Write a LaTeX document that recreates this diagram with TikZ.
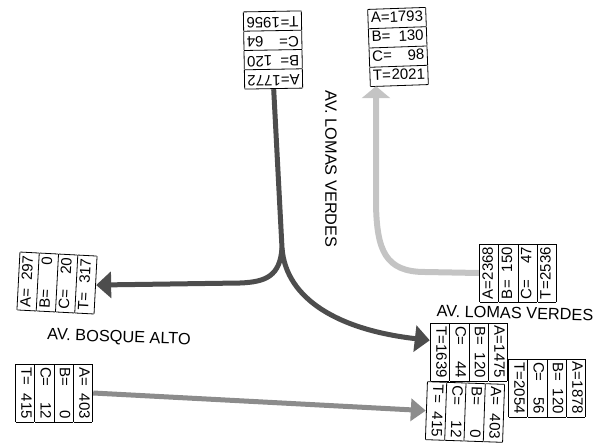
\documentclass[tikz,border=0pt]{standalone}
\usepackage{fontspec}
\setmainfont{Liberation Sans}
\usetikzlibrary{arrows.meta, calc}

\definecolor{viaoscura}{HTML}{4D4D4D}
\definecolor{viamedia}{HTML}{8C8C8C}
\definecolor{viaclara}{HTML}{C4C4C4}

% tabla de aforo: autos, buses, camiones, total
\newcommand{\aforo}[4]{%
  \renewcommand{\arraystretch}{1.0}%
  \setlength{\tabcolsep}{3pt}%
  \setlength{\arrayrulewidth}{0.8pt}%
  \begin{tabular}{|l|}\hline
    \makebox[52pt]{A=\hfill#1}\\\hline
    \makebox[52pt]{B=\hfill#2}\\\hline
    \makebox[52pt]{C=\hfill#3}\\\hline
    \makebox[52pt]{T=\hfill#4}\\\hline
  \end{tabular}}

\begin{document}
\begin{tikzpicture}[x=1pt, y=-1pt,
    conteo/.style={inner sep=0pt, font=\fontsize{15}{18.5}\selectfont},
    calle/.style={inner sep=0pt, font=\fontsize{16.3}{19}\selectfont},
    via/.style={line width=5pt, line join=round}]

    \useasboundingbox (0,0) rectangle (597,444);

    % --- Conteos ---
    \node[conteo, rotate=181] (norte)   at (273,50)  {\aforo{1772}{120}{64}{1956}};
    \node[conteo, rotate=2]   (noreste) at (398,47)  {\aforo{1793}{130}{98}{2021}};
    \node[conteo, rotate=90]  (este)    at (518,273) {\aforo{2368}{150}{47}{2536}};
    \node[conteo, rotate=87]  (oeste)   at (57,283)  {\aforo{297}{0}{20}{317}};
    \node[conteo, rotate=-90] (suroeste) at (54,393) {\aforo{403}{0}{12}{415}};
    \node[conteo, rotate=-90] (sur)     at (469,352) {\aforo{1475}{120}{44}{1639}};
    \node[conteo, rotate=-92] (surb)    at (465,412) {\aforo{403}{0}{12}{415}};
    \node[conteo, rotate=-90] (sureste) at (547,388) {\aforo{1878}{120}{56}{2054}};

    % --- Calles ---
    \node[calle, rotate=-90] (lomasv) at (331,169) {AV. LOMAS VERDES};
    \node[calle, rotate=-2]  (bosque) at (119,338) {AV. BOSQUE ALTO};
    \node[calle, rotate=-1.5] (lomash) at (515,313) {AV. LOMAS VERDES};

    % --- Flujos ---
    \coordinate (union) at (282,248);
    \draw[via, viaoscura, -{Triangle[length=15pt, width=26pt]}]
        (norte.north) -- (union) .. controls (280,276) and (266,282) .. (240,283)
        -- (oeste.south);
    \draw[via, viaoscura, -{Triangle[length=15pt, width=26pt]}]
        (union) .. controls (286,300) and (340,330)
        .. ($(sur.south west)!0.3!(sur.south east)$);

    \coordinate (codo) at (376,205);
    \draw[via, line width=6pt, viaclara, -{Triangle[length=12pt, width=28pt]}]
        (este.north) -- (425,272) .. controls (385,272) and (377,250) .. (codo)
        -- (noreste.south -| codo);

    \draw[via, viamedia, -{Triangle[length=15pt, width=22pt]}]
        (suroeste.north) -- (surb.south);

\end{tikzpicture}
\end{document}
